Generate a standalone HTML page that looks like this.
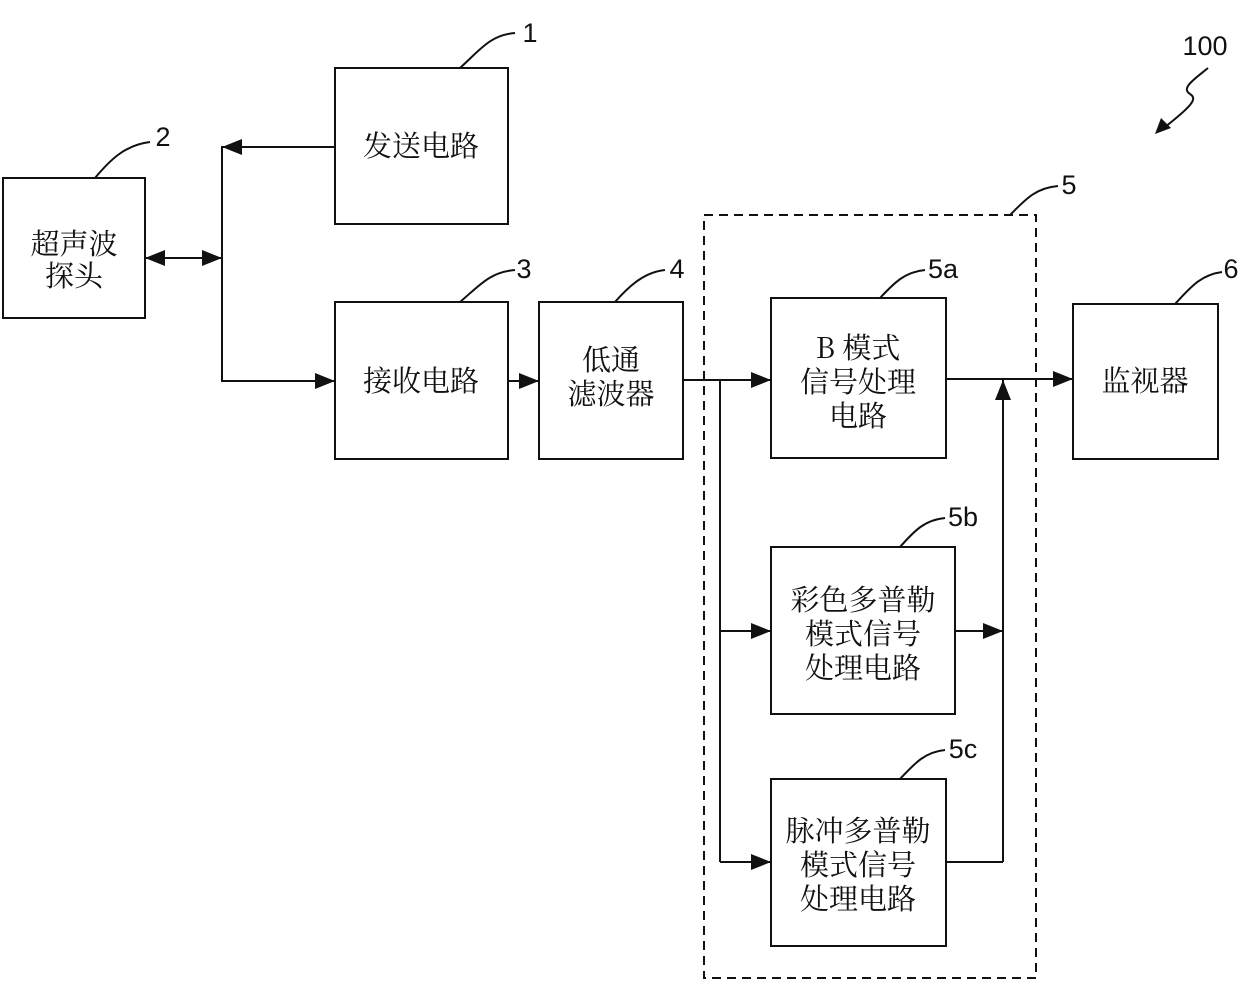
<!DOCTYPE html>
<html><head><meta charset="utf-8"><style>
body{margin:0;background:#fff;}
svg{display:block}
.t{font-family:"Noto Serif CJK SC","Liberation Serif",serif;font-size:29px;fill:#111;text-anchor:middle}
.n{font-family:"Liberation Sans",sans-serif;font-size:27px;fill:#111;text-anchor:middle}
</style></head><body>
<svg width="1240" height="983" viewBox="0 0 1240 983" xmlns="http://www.w3.org/2000/svg">
<g fill="none" stroke="#111" stroke-width="2">
<rect x="3" y="178" width="142" height="140"/>
<rect x="335" y="68" width="173" height="156"/>
<rect x="335" y="302" width="173" height="157"/>
<rect x="539" y="302" width="144" height="157"/>
<rect x="704" y="215" width="332" height="763" stroke-dasharray="9,6"/>
<rect x="771" y="298" width="175" height="160"/>
<rect x="771" y="547" width="184" height="167"/>
<rect x="771" y="779" width="175" height="167"/>
<rect x="1073" y="304" width="145" height="155"/>
<polyline points="335,147 222,147 222,381 335,381"/>
<line x1="145" y1="258" x2="222" y2="258"/>
<line x1="508" y1="381" x2="539" y2="381"/>
<line x1="683" y1="380" x2="771" y2="380"/>
<polyline points="771,631 720,631"/>
<line x1="720" y1="380" x2="720" y2="862"/>
<line x1="720" y1="862" x2="771" y2="862"/>
<line x1="946" y1="379" x2="1073" y2="379"/>
<line x1="1003" y1="862" x2="1003" y2="380"/>
<line x1="955" y1="631" x2="1003" y2="631"/>
<line x1="946" y1="862" x2="1003" y2="862"/>
<path d="M460,68 C480,50 490,35 515,33"/>
<path d="M95,178 C110,160 125,145 150,142"/>
<path d="M460,302 C480,285 490,272 515,270"/>
<path d="M615,302 C630,285 645,272 665,270"/>
<path d="M1010,215 C1025,200 1035,188 1058,186"/>
<path d="M880,298 C895,282 905,272 925,270"/>
<path d="M900,547 C915,530 925,520 945,518"/>
<path d="M900,779 C915,763 925,752 945,750"/>
<path d="M1175,304 C1190,288 1200,275 1222,272"/>
<path d="M1208,68 C1196,78 1180,88 1190,94 C1198,99 1192,106 1160,131"/>
</g>
<g fill="#111">
<path d="M222,147 l20,-8 v16z"/>
<path d="M145,258 l20,-8 v16z"/><path d="M222,258 l-20,-8 v16z"/>
<path d="M335,381 l-20,-8 v16z"/>
<path d="M539,381 l-20,-8 v16z"/>
<path d="M771,380 l-20,-8 v16z"/>
<path d="M771,631 l-20,-8 v16z"/>
<path d="M771,862 l-20,-8 v16z"/>
<path d="M1073,379 l-20,-8 v16z"/>
<path d="M1003,380 l-8,20 h16z"/>
<path d="M1003,631 l-20,-8 v16z"/>
<path d="M1155,134 l6,-16 l10,10z"/>
</g>
<text class="t" x="74" y="254">超声波</text><text class="t" x="74" y="286">探头</text>
<text class="t" x="421" y="156">发送电路</text>
<text class="t" x="421" y="391">接收电路</text>
<text class="t" x="611" y="370">低通</text><text class="t" x="611" y="404">滤波器</text>
<text class="t" x="858" y="358">B 模式</text><text class="t" x="858" y="392">信号处理</text><text class="t" x="858" y="426">电路</text>
<text class="t" x="863" y="610">彩色多普勒</text><text class="t" x="863" y="644">模式信号</text><text class="t" x="863" y="678">处理电路</text>
<text class="t" x="858" y="841">脉冲多普勒</text><text class="t" x="858" y="875">模式信号</text><text class="t" x="858" y="909">处理电路</text>
<text class="t" x="1145" y="391">监视器</text>
<text class="n" x="530" y="42">1</text>
<text class="n" x="163" y="146">2</text>
<text class="n" x="524" y="278">3</text>
<text class="n" x="677" y="278">4</text>
<text class="n" x="1069" y="194">5</text>
<text class="n" x="943" y="278">5a</text>
<text class="n" x="963" y="526">5b</text>
<text class="n" x="963" y="758">5c</text>
<text class="n" x="1231" y="278">6</text>
<text class="n" x="1205" y="55">100</text>
</svg>
</body></html>
